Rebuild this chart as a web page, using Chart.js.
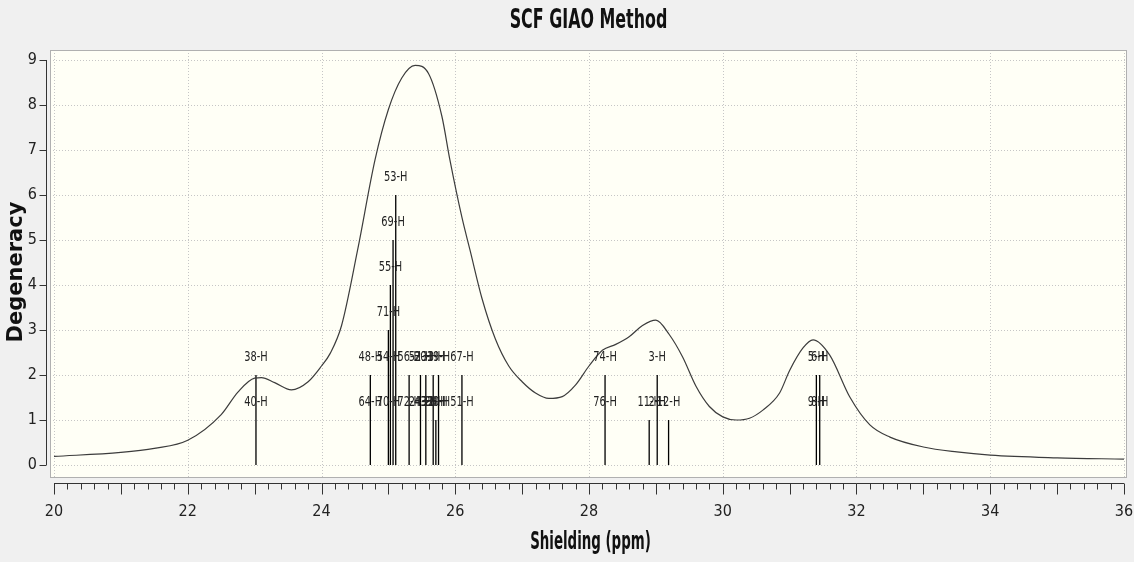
<!DOCTYPE html>
<html lang="en">
<head>
    <meta charset="UTF-8">
    <title>SCF GIAO Method</title>
    <style>
        body { margin: 0; background: #f0f0f0; }
        .chart-container { position: relative; width: 1134px; height: 562px; }
    </style>
</head>
<body>
    <div class="chart-container">
        <canvas id="myChart"></canvas>
    </div>
</body>
<script src="https://cdn.jsdelivr.net/npm/chart.js@4.4.0/dist/chart.umd.min.js"></script>
<script>
    // spectrum envelope
    const curveX = [20, 21, 21.5, 22, 22.5, 22.75, 23, 23.1, 23.3, 23.55, 23.8, 24.0, 24.13, 24.3, 24.54, 24.8, 25.0, 25.2, 25.4, 25.6, 25.8, 25.92, 26.1, 26.22, 26.4, 26.6, 26.8, 27.0, 27.2, 27.4, 27.6, 27.8, 28.0, 28.2, 28.4, 28.6, 28.8, 29.0, 29.2, 29.4, 29.6, 29.8, 30.0, 30.2, 30.4, 30.6, 30.85, 31.0, 31.2, 31.35, 31.6, 31.9, 32.2, 32.5, 33.0, 33.5, 34.0, 35.0, 36.0];
    const curveY = [0.19, 0.28, 0.37, 0.55, 1.12, 1.62, 1.93, 1.94, 1.83, 1.67, 1.85, 2.2, 2.48, 3.1, 4.78, 6.78, 7.9, 8.6, 8.88, 8.7, 7.75, 6.78, 5.5, 4.78, 3.7, 2.8, 2.2, 1.85, 1.6, 1.48, 1.52, 1.78, 2.2, 2.55, 2.68, 2.85, 3.1, 3.22, 2.9, 2.4, 1.75, 1.3, 1.07, 1.0, 1.04, 1.22, 1.6, 2.1, 2.6, 2.78, 2.44, 1.51, 0.89, 0.62, 0.4, 0.29, 0.22, 0.16, 0.13];

    // degeneracy sticks
    const stickShift = [23.02, 24.73, 25.00, 25.03, 25.07, 25.11, 25.31, 25.48, 25.56, 25.67, 25.71, 25.75, 26.10, 28.24, 28.90, 29.02, 29.19, 31.40, 31.45];
    const stickHeight = [2, 2, 3, 4, 5, 6, 2, 2, 2, 2, 1, 2, 2, 2, 1, 2, 1, 2, 2];

    // atom labels, stacked by level
    const labelText  = ['40-H', '38-H', '64-H', '48-H', '70-H', '54-H', '71-H', '55-H', '69-H', '53-H', '72-H', '56-H', '24-H', '52-H', '43-H', '20-H', '32-H', '33-H', '28-H', '30-H', '19-H', '51-H', '67-H', '76-H', '74-H', '11-H', '2-H', '3-H', '12-H', '9-H', '5-H', '8-H', '6-H'];
    const labelShift = [23.02, 23.02, 24.73, 24.73, 25.00, 25.00, 25.00, 25.03, 25.07, 25.11, 25.31, 25.31, 25.48, 25.48, 25.56, 25.56, 25.67, 25.67, 25.71, 25.75, 25.75, 26.10, 26.10, 28.24, 28.24, 28.90, 29.02, 29.02, 29.19, 31.40, 31.40, 31.45, 31.45];
    const labelLevel = [1, 2, 1, 2, 1, 2, 3, 4, 5, 6, 1, 2, 1, 2, 1, 2, 1, 2, 1, 1, 2, 1, 2, 1, 2, 1, 1, 2, 1, 1, 2, 1, 2];

    const xTicks = [20, 22, 24, 26, 28, 30, 32, 34, 36];
    const yTicks = [0, 1, 2, 3, 4, 5, 6, 7, 8, 9];

    const narrow = "'DejaVu Sans Condensed', 'Liberation Sans Narrow', sans-serif";

    var sticks = [];
    stickShift.forEach(function (s, i) {
        sticks.push({x: s, y: 0}, {x: s, y: stickHeight[i]}, {x: s, y: null});
    });

    // text squeezed sideways, the source picture is narrow
    function squeeze(ctx, text, x, y, sx) {
        ctx.save();
        ctx.translate(x, y);
        ctx.scale(sx, 1);
        ctx.fillText(text, 0, 0);
        ctx.restore();
    }

    // plot background, dotted grid, detached axes and the texts
    const frame = {
        id: 'frame',
        beforeDatasetsDraw(chart) {
            const ctx = chart.ctx, a = chart.chartArea;
            const x = chart.scales.x, y = chart.scales.y;
            ctx.save();
            ctx.fillStyle = '#fffff6';
            ctx.fillRect(a.left, a.top, a.right - a.left, a.bottom - a.top);

            ctx.strokeStyle = '#c6c6c6';
            ctx.lineWidth = 1;
            ctx.setLineDash([1, 2]);
            ctx.beginPath();
            xTicks.forEach(function (v) {
                const px = Math.round(x.getPixelForValue(v)) + 0.5;
                ctx.moveTo(px, a.top); ctx.lineTo(px, a.bottom);
            });
            yTicks.forEach(function (v) {
                const py = Math.round(y.getPixelForValue(v)) + 0.5;
                ctx.moveTo(a.left, py); ctx.lineTo(a.right, py);
            });
            ctx.stroke();
            ctx.setLineDash([]);

            ctx.strokeStyle = '#b0b0b0';
            ctx.strokeRect(a.left + 0.5, a.top + 0.5, a.right - a.left - 1, a.bottom - a.top - 1);

            // y axis
            ctx.strokeStyle = '#333';
            ctx.beginPath();
            const ax = a.left - 3.5;
            ctx.moveTo(ax, y.getPixelForValue(9)); ctx.lineTo(ax, y.getPixelForValue(0));
            yTicks.forEach(function (v) {
                const py = Math.round(y.getPixelForValue(v)) + 0.5;
                ctx.moveTo(ax - 7, py); ctx.lineTo(ax, py);
            });
            ctx.stroke();

            // x axis with minor ticks
            const ay = a.bottom + 5.5;
            ctx.beginPath();
            ctx.moveTo(x.getPixelForValue(20), ay); ctx.lineTo(x.getPixelForValue(36), ay);
            for (let i = 0; i <= 80; i++) {
                const px = Math.round(x.getPixelForValue(20 + i * 0.2)) + 0.5;
                ctx.moveTo(px, ay);
                ctx.lineTo(px, ay + (i % 5 === 0 ? 11 : 6));
            }
            ctx.stroke();

            // titles
            const cx = (a.left + a.right) / 2;
            ctx.fillStyle = '#111';
            ctx.textAlign = 'center';
            ctx.textBaseline = 'middle';
            ctx.font = 'bold 26px ' + narrow;
            squeeze(ctx, 'SCF GIAO Method', cx, 21, 0.68);
            ctx.font = 'bold 24px ' + narrow;
            squeeze(ctx, 'Shielding (ppm)', cx + 2, 543, 0.62);
            ctx.save();
            ctx.translate(17, 272);
            ctx.rotate(-Math.PI / 2);
            ctx.font = "bold 21px 'DejaVu Sans', Verdana, sans-serif";
            ctx.fillText('Degeneracy', 0, 0);
            ctx.restore();
            ctx.restore();
        },
        afterDatasetsDraw(chart) {
            const ctx = chart.ctx;
            const x = chart.scales.x, y = chart.scales.y;
            ctx.save();
            ctx.fillStyle = '#222';
            ctx.font = '14px ' + narrow;
            ctx.textAlign = 'center';
            ctx.textBaseline = 'middle';
            labelText.forEach(function (t, i) {
                squeeze(ctx, t, x.getPixelForValue(labelShift[i]), y.getPixelForValue(labelLevel[i] + 0.4), 0.78);
            });
            ctx.restore();
        }
    };

    var ctx = document.getElementById('myChart').getContext('2d');
    var myChart = new Chart(ctx, {
        type: 'line',
        data: {
            datasets: [{
                label: 'Spectrum',
                data: curveX.map(function (v, i) { return {x: v, y: curveY[i]}; }),
                borderColor: '#3c3c3c',
                borderWidth: 1.2,
                pointRadius: 0,
                cubicInterpolationMode: 'monotone',
                fill: false
            }, {
                label: 'Degeneracy',
                data: sticks,
                borderColor: '#000',
                borderWidth: 1.3,
                pointRadius: 0,
                spanGaps: false,
                tension: 0
            }]
        },
        options: {
            responsive: true,
            maintainAspectRatio: false,
            animation: false,
            layout: { padding: { left: 0, right: 7, top: 50, bottom: 0 } },
            plugins: {
                legend: { display: false },
                tooltip: { enabled: false },
                title: { display: false }
            },
            scales: {
                x: {
                    type: 'linear',
                    min: 19.94,
                    max: 36.045,
                    afterFit: function (s) { s.height = 84; s.paddingLeft = 0; s.paddingRight = 0; },
                    afterBuildTicks: function (s) { s.ticks = xTicks.map(function (v) { return {value: v}; }); },
                    grid: { display: false, drawTicks: false },
                    border: { display: false },
                    ticks: { color: '#222', padding: 24, maxRotation: 0, font: { family: narrow, size: 16 } }
                },
                y: {
                    min: -0.289,
                    max: 9.222,
                    afterFit: function (s) { s.width = 50; s.paddingTop = 0; s.paddingBottom = 0; },
                    afterBuildTicks: function (s) { s.ticks = yTicks.map(function (v) { return {value: v}; }); },
                    grid: { display: false, drawTicks: false },
                    border: { display: false },
                    ticks: { color: '#222', padding: 13, font: { family: narrow, size: 16 } }
                }
            }
        },
        plugins: [frame]
    });
</script>
</html>
